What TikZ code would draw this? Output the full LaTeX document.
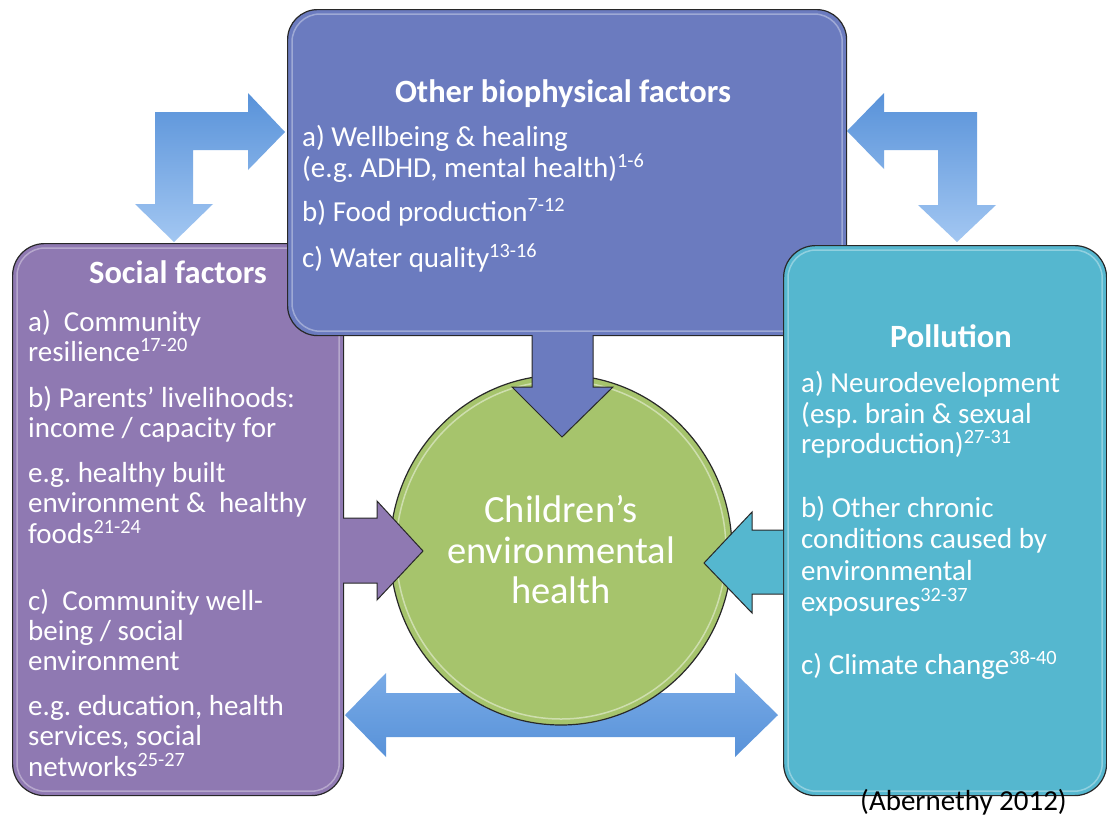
\documentclass[tikz,border=0pt]{standalone}
\usepackage{fontspec}
\setmainfont{Carlito}
\usetikzlibrary{shapes.geometric}
\frenchspacing
\definecolor{bluebox}{RGB}{107,123,191}
\definecolor{purplebox}{RGB}{143,121,178}
\definecolor{cyanbox}{RGB}{85,183,207}
\definecolor{greencirc}{RGB}{166,196,108}
\definecolor{arrowdark}{RGB}{88,146,217}
\definecolor{arrowmid}{RGB}{120,170,230}
\definecolor{arrowlight}{RGB}{163,199,242}
\definecolor{edgecol}{RGB}{40,40,40}
\newcommand{\refs}[1]{\textsuperscript{#1}}
\tikzset{
  box/.style={draw=edgecol, line width=1.2pt, rounded corners=32pt, inner sep=0pt, anchor=north west},
  hl/.style={draw=white, opacity=0.35, line width=1.5pt, rounded corners=28pt},
  txt/.style={text=white, font=\fontsize{29}{34}\selectfont, anchor=base west, inner sep=0pt},
  ttl/.style={text=white, font=\fontsize{32.5}{38}\selectfont\bfseries, anchor=base, inner sep=0pt},
  ctr/.style={text=white, font=\fontsize{38.5}{44}\selectfont, anchor=base, inner sep=0pt},
  blockarrow/.style={draw=edgecol, line width=1pt, line join=miter},
  bentarrow/.style={top color=arrowdark, bottom color=arrowlight},
}
\begin{document}
\begin{tikzpicture}[x=1pt,y=-1pt]
\useasboundingbox[fill=white] (0,0) rectangle (1107,817);

% bent arrows (behind boxes)
\shade[bentarrow] (155,112) -- (248,112) -- (248,93) -- (285,132) -- (248,170) -- (248,150)
  -- (193,150) -- (193,204) -- (213,204) -- (174,242) -- (135,204) -- (155,204) -- cycle;
\shade[bentarrow] (977,112) -- (884,112) -- (884,93) -- (847,131) -- (884,169) -- (884,150)
  -- (938,150) -- (938,205) -- (918,205) -- (957,242) -- (996,205) -- (977,205) -- cycle;

% boxes
\node[box, fill=purplebox, minimum width=331pt, minimum height=552pt] (social) at (12,243) {};
\draw[hl] ([shift={(5,5)}]social.north west) rectangle ([shift={(-5,-5)}]social.south east);
\node[box, fill=bluebox, minimum width=559pt, minimum height=326pt, rounded corners=30pt] (bio) at (287,9) {};
\draw[hl] ([shift={(5,5)}]bio.north west) rectangle ([shift={(-5,-5)}]bio.south east);
\node[box, fill=cyanbox, minimum width=323pt, minimum height=550pt] (poll) at (783,245) {};
\draw[hl] ([shift={(5,5)}]poll.north west) rectangle ([shift={(-5,-5)}]poll.south east);

% double arrow (behind circle)
\shade[top color=arrowmid, middle color=arrowlight, bottom color=arrowdark]
  (345,715) -- (386,673) -- (386,693) -- (735,693) -- (735,673) -- (778,715)
  -- (735,757) -- (735,737) -- (386,737) -- (386,757) -- cycle;

% central circle
\node[ellipse, draw=edgecol, line width=1.2pt, fill=greencirc, minimum width=342pt, minimum height=350pt, inner sep=0pt] (ceh) at (561,550) {};
\draw[draw=white, opacity=0.45, line width=1.5pt] (ceh.center) ellipse [x radius=165, y radius=169];

% arrows into the circle
\filldraw[blockarrow, fill=bluebox] (532,335) -- (532,387) -- (512,387) -- (562,437) -- (613,387) -- (593,387) -- (593,335);
\filldraw[blockarrow, fill=purplebox] (343,518) -- (377,518) -- (377,501) -- (423,551) -- (377,600) -- (377,583) -- (343,583);
\filldraw[blockarrow, fill=cyanbox] (783,530) -- (752,530) -- (752,512) -- (704,563) -- (752,613) -- (752,594) -- (783,594);

% texts: biophysical
\node[ttl] (bt) at (563,102) {Other biophysical factors};
\node[txt] (b1) at (302,146) {a) Wellbeing \& healing};
\node[txt] (b2) at (302,177) {(e.g. ADHD, mental health)\refs{1-6}};
\node[txt] (b3) at (302,221) {b) Food production\refs{7-12}};
\node[txt] (b4) at (302,267) {c) Water quality\refs{13-16}};

% texts: social
\node[ttl] (st) at (178,283) {Social factors};
\node[txt] (s1) at (28,331) {a)\ \ Community};
\node[txt] (s2) at (28,361) {resilience\refs{17-20}};
\node[txt] (s3) at (28,407) {b) Parents’ livelihoods:};
\node[txt] (s4) at (28,437) {income / capacity for};
\node[txt] (s5) at (28,482) {e.g. healthy built};
\node[txt] (s6) at (28,512) {environment \&\ \ healthy};
\node[txt] (s7) at (28,543) {foods\refs{21-24}};
\node[txt] (s8) at (28,610) {c)\ \ Community well-};
\node[txt] (s9) at (28,640) {being / social};
\node[txt] (s10) at (28,670) {environment};
\node[txt] (s11) at (28,715) {e.g. education, health};
\node[txt] (s12) at (28,745) {services, social};
\node[txt] (s13) at (28,776) {networks\refs{25-27}};

% texts: pollution
\node[ttl] (pt) at (951,347) {Pollution};
\node[txt] (p1) at (801,392) {a) Neurodevelopment};
\node[txt] (p2) at (801,423) {(esp. brain \& sexual};
\node[txt] (p3) at (801,453) {reproduction)\refs{27-31}};
\node[txt] (p4) at (801,517) {b) Other chronic};
\node[txt] (p5) at (801,548) {conditions caused by};
\node[txt] (p6) at (801,580) {environmental};
\node[txt] (p7) at (801,611) {exposures\refs{32-37}};
\node[txt] (p8) at (801,674) {c) Climate change\refs{38-40}};

% centre text
\node[ctr] (c1) at (561,522) {Children’s};
\node[ctr] (c2) at (561,563) {environmental};
\node[ctr] (c3) at (561,603) {health};

% citation
\node[txt, text=black] (cite) at (860,810) {(Abernethy 2012)};
\end{tikzpicture}
\end{document}
